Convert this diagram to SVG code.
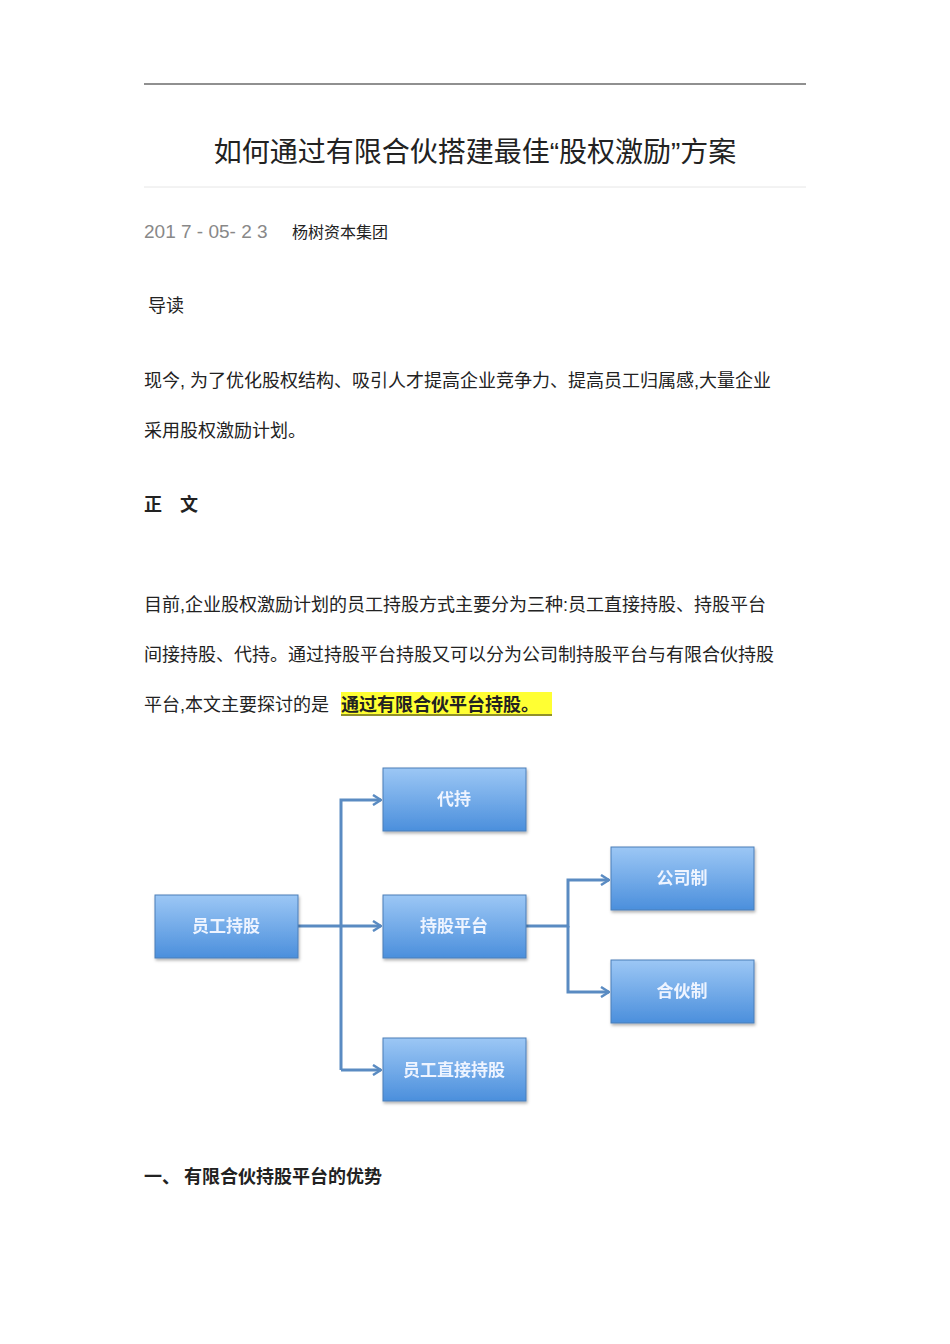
<svg xmlns="http://www.w3.org/2000/svg" width="950" height="1344" viewBox="0 0 950 1344">
<style>
.t{font-family:"Liberation Sans","Noto Sans CJK SC",sans-serif;fill:#222}
.b{font-family:"Noto Sans CJK SC",sans-serif;font-weight:bold;fill:#222}
.n{fill:url(#g);stroke:#4a7fb8;stroke-width:1}
.nt{font-family:"Noto Sans CJK SC",sans-serif;font-size:17px;fill:#eef4ff;text-anchor:middle;font-weight:bold}
.c{fill:none;stroke:#5a8bc2;stroke-width:3}
</style>
<defs>
<linearGradient id="g" x1="0" y1="0" x2="0" y2="1"><stop offset="0" stop-color="#9cc7f5"/><stop offset="1" stop-color="#4b8fdc"/></linearGradient>
<marker id="a" markerWidth="10" markerHeight="12" refX="9" refY="6" orient="auto" markerUnits="userSpaceOnUse"><path d="M1,1 L9,6 L1,11" fill="none" stroke="#5a8bc2" stroke-width="2.5"/></marker>
<filter id="s"><feDropShadow dx="1" dy="2" stdDeviation="1.5" flood-opacity="0.3"/></filter>
</defs>
<rect width="950" height="1344" fill="#fff"/>
<line x1="144" y1="84" x2="806" y2="84" stroke="#222" stroke-width="1.2"/>
<text x="475" y="162" class="t" font-size="28" text-anchor="middle">如何通过有限合伙搭建最佳“股权激励”方案</text>
<line x1="144" y1="187" x2="806" y2="187" stroke="#e6e6e6"/>
<text x="144" y="238" class="t" font-size="19" fill="#888" style="fill:#888">201 7 - 05- 2 3</text>
<text x="292" y="238" class="t" font-size="16">杨树资本集团</text>
<text x="148" y="312" class="t" font-size="18">导读</text>
<text x="144" y="387" class="t" font-size="18">现今, 为了优化股权结构、吸引人才提高企业竞争力、提高员工归属感,大量企业</text>
<text x="144" y="437" class="t" font-size="18">采用股权激励计划。</text>
<text x="144" y="511" class="b" font-size="18">正　文</text>
<text x="144" y="611" class="t" font-size="18">目前,企业股权激励计划的员工持股方式主要分为三种:员工直接持股、持股平台</text>
<text x="144" y="661" class="t" font-size="18">间接持股、代持。通过持股平台持股又可以分为公司制持股平台与有限合伙持股</text>
<text x="144" y="711" class="t" font-size="18">平台,本文主要探讨的是</text>
<rect x="341" y="692" width="211" height="24" fill="#ffff33"/>
<text x="341" y="711" class="b" font-size="18">通过有限合伙平台持股。</text>
<line x1="341" y1="715" x2="552" y2="715" stroke="#222" stroke-width="1"/>
<g id="connectors">
<path class="c" d="M298,926 H381" marker-end="url(#a)"/>
<path class="c" d="M341,1070 V800 H381" marker-end="url(#a)"/>
<path class="c" d="M341,1070 H381" marker-end="url(#a)"/>
<path class="c" d="M526,926 H568 V880 H609" marker-end="url(#a)"/>
<path class="c" d="M568,926 V992 H609" marker-end="url(#a)"/>
</g>
<g id="n1" filter="url(#s)"><rect class="n" x="155" y="895" width="143" height="63"/><text class="nt" x="226" y="932">员工持股</text></g>
<g id="n2" filter="url(#s)"><rect class="n" x="383" y="768" width="143" height="63"/><text class="nt" x="454" y="805">代持</text></g>
<g id="n3" filter="url(#s)"><rect class="n" x="383" y="895" width="143" height="63"/><text class="nt" x="454" y="932">持股平台</text></g>
<g id="n4" filter="url(#s)"><rect class="n" x="383" y="1038" width="143" height="63"/><text class="nt" x="454" y="1076">员工直接持股</text></g>
<g id="n5" filter="url(#s)"><rect class="n" x="611" y="847" width="143" height="63"/><text class="nt" x="682" y="884">公司制</text></g>
<g id="n6" filter="url(#s)"><rect class="n" x="611" y="960" width="143" height="63"/><text class="nt" x="682" y="997">合伙制</text></g>
<text x="144" y="1183" class="b" font-size="18">一、 有限合伙持股平台的优势</text>
</svg>
